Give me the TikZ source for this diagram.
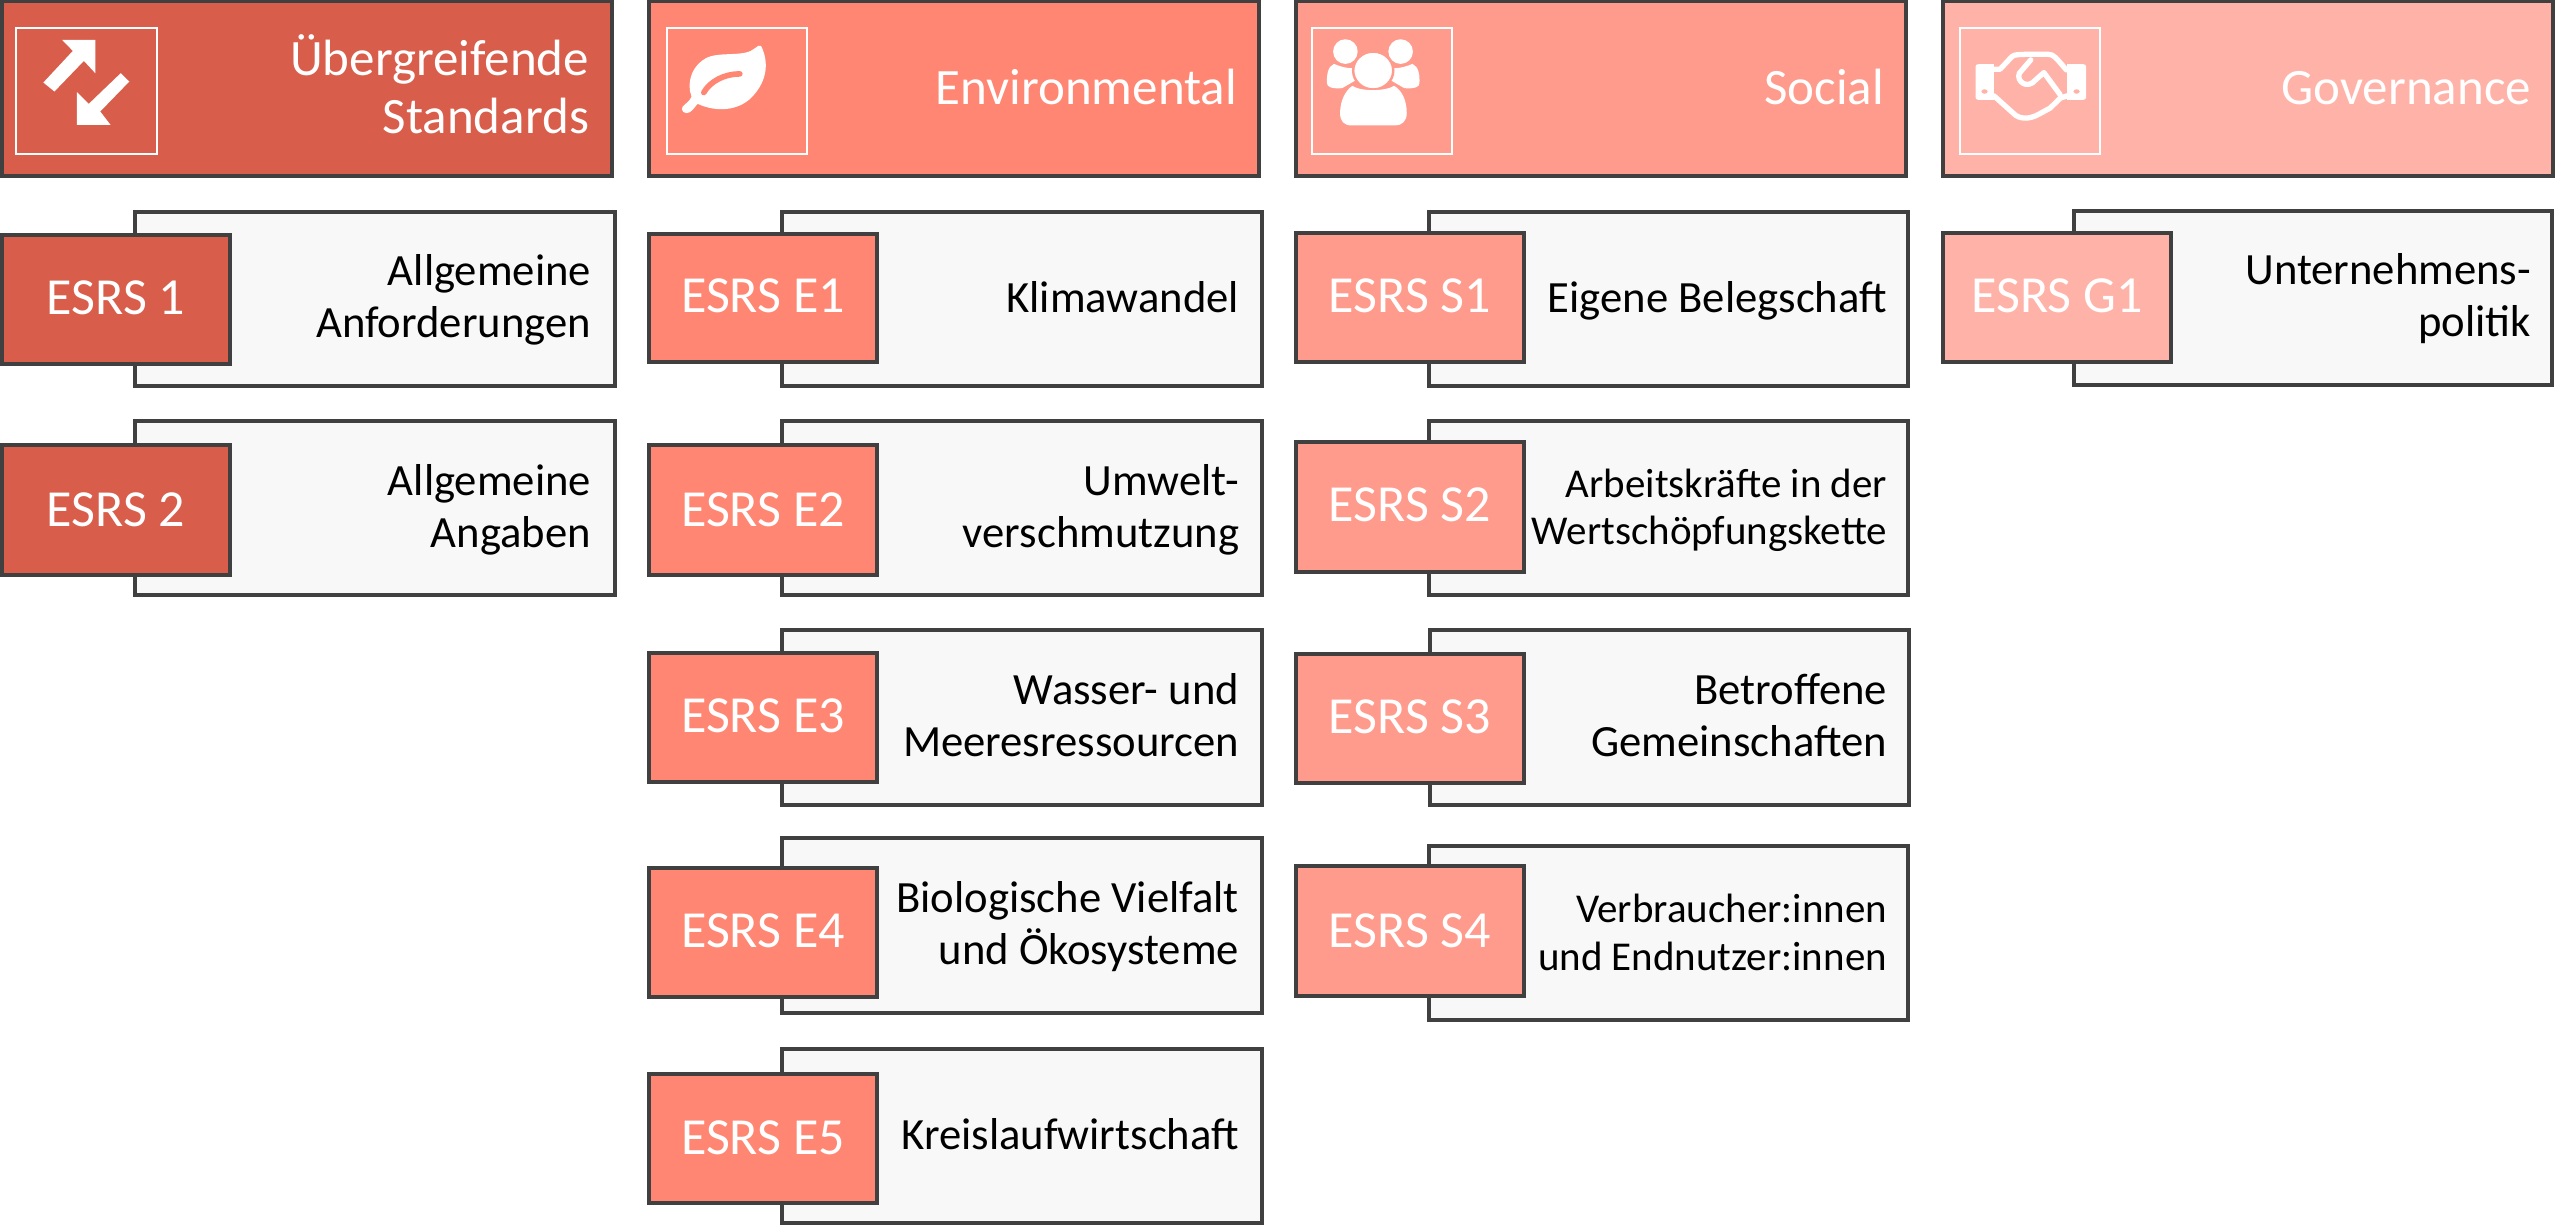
\documentclass[tikz,border=0pt]{standalone}
\usepackage{fontspec}
\setmainfont{Carlito}
\definecolor{cA}{HTML}{D95D4B}
\definecolor{cB}{HTML}{FF8672}
\definecolor{cC}{HTML}{FF9B8C}
\definecolor{cD}{HTML}{FFB3A8}
\definecolor{cardbg}{HTML}{F8F8F8}
\definecolor{edge}{HTML}{404040}
\tikzset{
  x=0.01cm, y=-0.01cm,
  boxbase/.style={rectangle, draw=edge, line width=1pt, inner sep=0pt, outer sep=0pt, anchor=north west},
  headbox/.style={boxbase},
  cardbox/.style={boxbase, fill=cardbg},
  codebox/.style={boxbase},
  iconbox/.style={rectangle, draw=white, line width=0.6pt, inner sep=0pt, outer sep=0pt, anchor=north west},
  headtext/.style={anchor=base east, align=right, inner sep=0pt, outer sep=0pt, text=white,
    font=\fontsize{14.5pt}{16.5pt}\selectfont},
  codetext/.style={anchor=base, inner sep=0pt, outer sep=0pt, text=white,
    font=\fontsize{14.8pt}{16pt}\selectfont},
  cardtext/.style={anchor=base east, align=right, inner sep=0pt, outer sep=0pt, text=black,
    font=\fontsize{12.7pt}{14.9pt}\selectfont},
  cardsmall/.style={cardtext, font=\fontsize{11.65pt}{13.5pt}\selectfont},
  zoomed/.style={x=0.004082cm, y=-0.003333cm},
  iconline/.style={draw=white, line width=1.5pt, line join=round, line cap=round},
}
% name, style, x1, y1, x2, y2
\newcommand{\rbox}[6]{\node[#2, minimum width={(#5-#3)*0.01cm}, minimum height={(#6-#4)*0.01cm}] (#1) at (#3,#4) {};}
\begin{document}
\begin{tikzpicture}
\useasboundingbox (0,0) rectangle (2560,1225);
% ---------- column 1
\rbox{h1}{headbox,fill=cA}{2}{1}{612}{176}
\rbox{h1i}{iconbox}{16}{28}{157}{154}
\begin{scope}[zoomed]
  \fill[white] (152,120) -- (233,120) -- (233,220) -- (205,183) -- (133,275) -- (106,248) -- (178,153) -- cycle;
  \fill[white] (316,245) -- (245,335) -- (270,375) -- (188,375) -- (188,277) -- (217,312) -- (295,220) -- cycle;
\end{scope}
\node[headtext] (h1t) at (589,134) {Übergreifende\\Standards};

\rbox{c11}{cardbox}{135}{212}{615}{386}
\node[cardtext] (c11t) at (591,338) {Allgemeine\\Anforderungen};
\rbox{k11}{codebox,fill=cA}{2}{235}{230}{364}
\node[codetext] (k11t) at (116,315) {ESRS 1};

\rbox{c12}{cardbox}{135}{421}{615}{595}
\node[cardtext] (c12t) at (591,548) {Allgemeine\\Angaben};
\rbox{k12}{codebox,fill=cA}{2}{445}{230}{575}
\node[codetext] (k12t) at (116,527) {ESRS 2};

% ---------- column 2
\rbox{h2}{headbox,fill=cB}{649}{1}{1259}{176}
\rbox{h2i}{iconbox}{667}{28}{807}{154}
\begin{scope}[zoomed, xshift=6.4cm]
  \fill[white] (295,138) .. controls (312,180) and (315,240) .. (270,295)
     .. controls (240,330) and (190,340) .. (140,312)
     .. controls (130,325) and (125,340) .. (112,340)
     .. controls (100,338) and (98,322) .. (108,315)
     .. controls (115,308) and (122,300) .. (125,290)
     .. controls (112,250) and (125,195) .. (165,172)
     .. controls (200,155) and (255,172) .. (280,145)
     .. controls (285,138) and (292,135) .. (295,138) -- cycle;
  \draw[cB, line width=1.6pt, line cap=round] (155,278) .. controls (170,245) and (205,222) .. (243,222);
\end{scope}
\node[headtext] (h2t) at (1237,105) {Environmental};

\rbox{c21}{cardbox}{782}{212}{1262}{386}
\node[cardtext] (c21t) at (1239,313) {Klimawandel};
\rbox{k21}{codebox,fill=cB}{649}{234}{877}{362}
\node[codetext] (k21t) at (763,313) {ESRS E1};

\rbox{c22}{cardbox}{782}{421}{1262}{595}
\node[cardtext] (c22t) at (1239,548) {Umwelt-\\verschmutzung};
\rbox{k22}{codebox,fill=cB}{649}{445}{877}{575}
\node[codetext] (k22t) at (763,527) {ESRS E2};

\rbox{c23}{cardbox}{782}{630}{1262}{805}
\node[cardtext] (c23t) at (1239,757) {Wasser- und\\Meeresressourcen};
\rbox{k23}{codebox,fill=cB}{649}{653}{877}{782}
\node[codetext] (k23t) at (763,733) {ESRS E3};

\rbox{c24}{cardbox}{782}{838}{1262}{1013}
\node[cardtext] (c24t) at (1239,965) {Biologische Vielfalt\\und Ökosysteme};
\rbox{k24}{codebox,fill=cB}{649}{868}{877}{997}
\node[codetext] (k24t) at (763,948) {ESRS E4};

\rbox{c25}{cardbox}{782}{1049}{1262}{1223}
\node[cardtext] (c25t) at (1239,1149) {Kreislaufwirtschaft};
\rbox{k25}{codebox,fill=cB}{649}{1074}{877}{1203}
\node[codetext] (k25t) at (763,1154) {ESRS E5};

% ---------- column 3
\rbox{h3}{headbox,fill=cC}{1296}{1}{1906}{176}
\rbox{h3i}{iconbox}{1312}{28}{1452}{154}
\begin{scope}[zoomed, xshift=12.8cm]
  \fill[white] (130,192) .. controls (115,200) and (112,225) .. (113,250)
     .. controls (113,262) and (125,267) .. (150,265) -- (185,240) -- (175,205)
     .. controls (160,205) and (145,200) .. (130,192) -- cycle;
  \fill[white] (322,192) .. controls (337,200) and (340,225) .. (339,250)
     .. controls (339,262) and (327,267) .. (302,265) -- (267,240) -- (277,205)
     .. controls (292,205) and (307,200) .. (322,192) -- cycle;
  \fill[white] (158,155) ellipse [x radius=30, y radius=37];
  \fill[white] (293,155) ellipse [x radius=30, y radius=37];
  \filldraw[fill=white, draw=cC, line width=0.7pt] (226,212) ellipse [x radius=49, y radius=57];
  \fill[white] (145,340) .. controls (145,300) and (160,270) .. (175,258)
     .. controls (195,275) and (255,275) .. (277,258)
     .. controls (295,270) and (308,300) .. (308,340)
     .. controls (308,365) and (295,377) .. (280,377) -- (173,377)
     .. controls (155,377) and (145,365) .. (145,340) -- cycle;
\end{scope}
\node[headtext] (h3t) at (1884,105) {Social};

\rbox{c31}{cardbox}{1429}{212}{1908}{386}
\node[cardtext] (c31t) at (1887,313) {Eigene Belegschaft};
\rbox{k31}{codebox,fill=cC}{1296}{233}{1524}{362}
\node[codetext] (k31t) at (1410,313) {ESRS S1};

\rbox{c32}{cardbox}{1429}{421}{1908}{595}
\node[cardsmall] (c32t) at (1887,545) {Arbeitskräfte in der\\Wertschöpfungskette};
\rbox{k32}{codebox,fill=cC}{1296}{442}{1524}{572}
\node[codetext] (k32t) at (1410,522) {ESRS S2};

\rbox{c33}{cardbox}{1430}{630}{1909}{805}
\node[cardtext] (c33t) at (1887,757) {Betroffene\\Gemeinschaften};
\rbox{k33}{codebox,fill=cC}{1296}{654}{1524}{783}
\node[codetext] (k33t) at (1410,734) {ESRS S3};

\rbox{c34}{cardbox}{1429}{846}{1908}{1020}
\node[cardsmall] (c34t) at (1887,970) {Verbraucher:innen\\und Endnutzer:innen};
\rbox{k34}{codebox,fill=cC}{1296}{866}{1524}{996}
\node[codetext] (k34t) at (1410,947) {ESRS S4};

% ---------- column 4
\rbox{h4}{headbox,fill=cD}{1943}{1}{2553}{176}
\rbox{h4i}{iconbox}{1960}{28}{2100}{154}
\begin{scope}[zoomed, xshift=19.2cm]
  \fill[white, even odd rule] (133,200) .. controls (133,195) and (136,193) .. (140,193) -- (178,193) -- (178,300) -- (140,300)
     .. controls (136,300) and (133,297) .. (133,293) -- cycle
     (155,275) circle [x radius=8, y radius=7];
  \fill[white, even odd rule] (403,200) .. controls (403,195) and (400,193) .. (396,193) -- (357,193) -- (357,300) -- (396,300)
     .. controls (400,300) and (403,297) .. (403,293) -- cycle
     (380,275) circle [x radius=8, y radius=7];
  \draw[iconline] (178,208) -- (193,208) -- (222,170) .. controls (228,163) and (240,163) .. (310,163)
     .. controls (325,163) and (330,175) .. (355,210);
  \draw[iconline] (178,288) -- (225,340) .. controls (240,360) and (265,358) .. (285,345) -- (315,325) -- (340,295) -- (357,288);
  \draw[iconline] (268,180) -- (240,220) .. controls (232,245) and (260,270) .. (280,240) -- (300,218) -- (340,285);
\end{scope}
\node[headtext] (h4t) at (2531,105) {Governance};

\rbox{c41}{cardbox}{2074}{211}{2552}{385}
\node[cardtext] (c41t) at (2531,337) {Unternehmens-\\politik};
\rbox{k41}{codebox,fill=cD}{1943}{233}{2171}{362}
\node[codetext] (k41t) at (2057,313) {ESRS G1};
\end{tikzpicture}
\end{document}
